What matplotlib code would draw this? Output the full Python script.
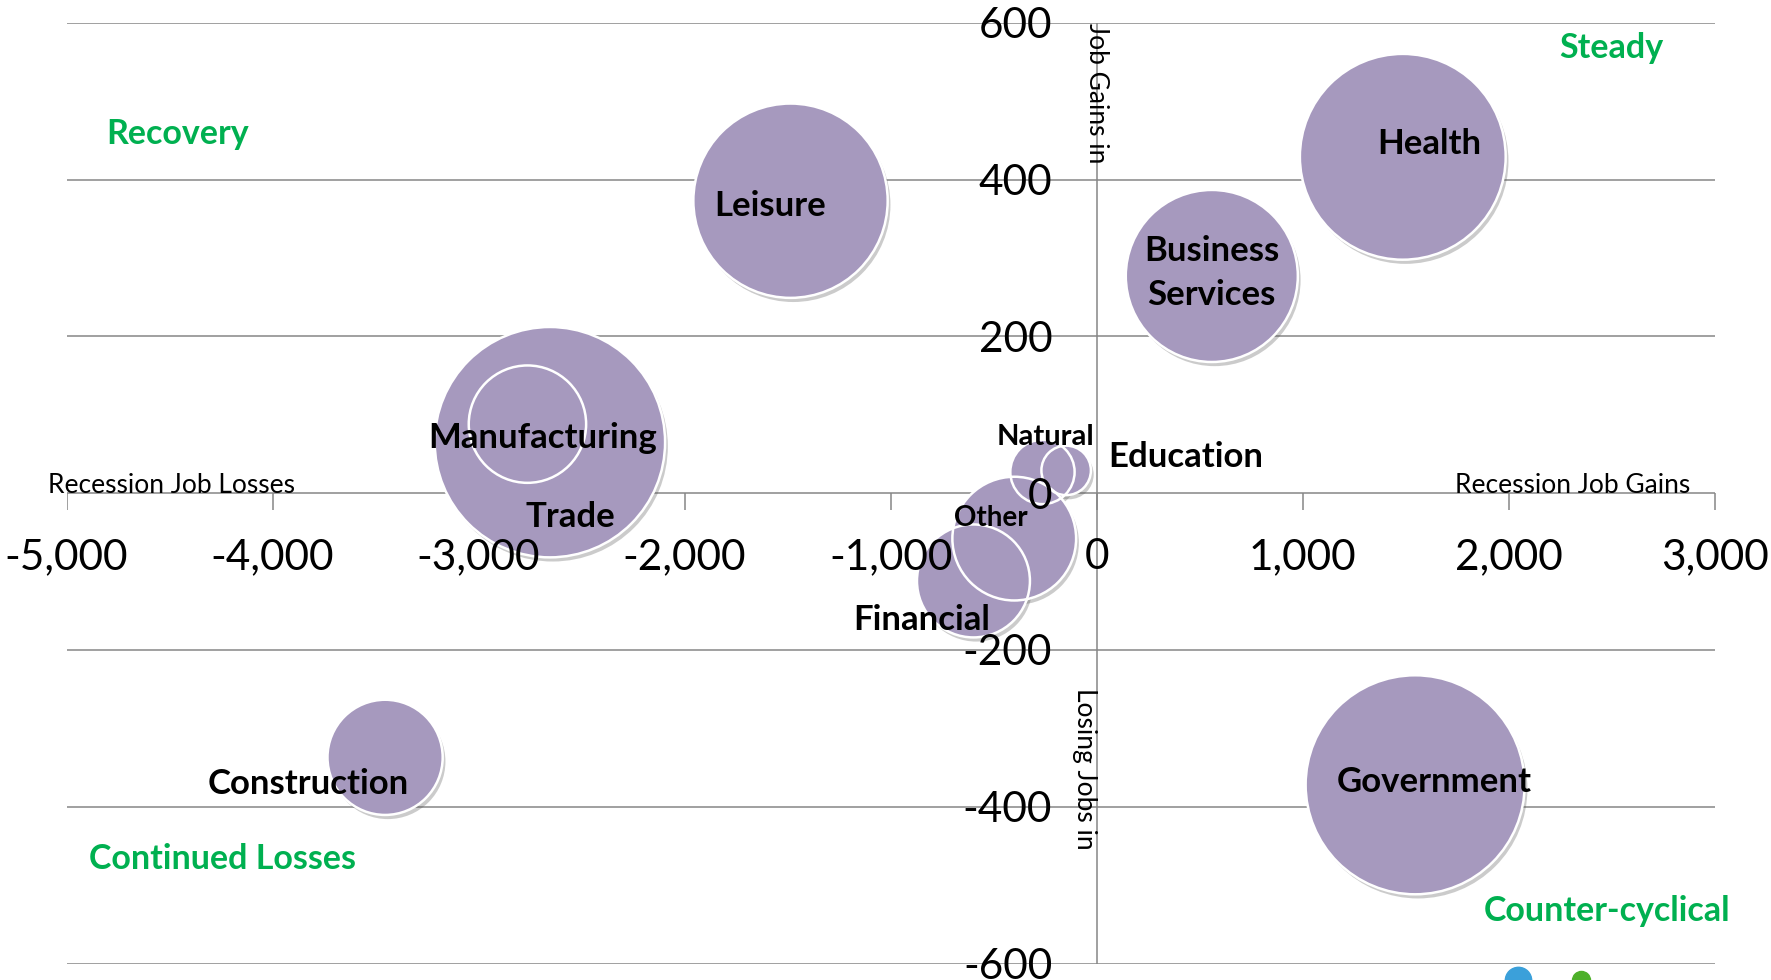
import matplotlib
matplotlib.use("Agg")
import matplotlib.pyplot as plt
import matplotlib.patheffects as pe
from matplotlib.lines import Line2D
import numpy as np

plt.rcParams["font.family"] = ["Lato", "DejaVu Sans"]

# bubble data: x = recession job change, y = recovery job change, size = bubble area
sectors = ["Leisure", "Health", "Business\nServices", "Manufacturing", "Trade",
           "Construction", "Government", "Natural", "Education", "Other", "Financial"]
recession_change = [-1486, 1486, 559, -2654, -2763, -3454, 1546, -263, -148, -400, -598]
recovery_change = [373, 429, 277, 65, 88, -337, -372, 27, 29, -58, -112]
bubble_size = [7400, 8300, 5800, 10400, 2700, 2600, 9400, 810, 480, 3000, 2500]

# label offsets from bubble centre (points) and font sizes
label_offset = [(-15, -4), (19, 9), (0, 2), (-5, 3), (31, -67), (-55, -19),
                (14, 2), (2, 25), (86, 10), (-17, 15), (-37, -28)]
label_fs = [25, 25, 25, 25, 25, 25, 25, 21, 25, 20, 25]

x_ticks = [-5000, -4000, -3000, -2000, -1000, 0, 1000, 2000, 3000]
y_ticks = [-600, -400, -200, 0, 200, 400, 600]

quadrants = ["Recovery", "Steady", "Continued Losses", "Counter-cyclical"]
quad_x = [-4463, 2500, -4243, 2478]
quad_y = [458, 568, -467, -533]

GRID = "#868686"
BUBBLE = "#A699BE"
GREEN = "#00B050"
DPI = 100
PX_PER_SQRT = 1.1295  # pixels of radius per sqrt(size)

fig = plt.figure(figsize=(17.71, 9.8), dpi=DPI)
ax = fig.add_axes([0.0376, 0.0168, 0.9306, 0.960])
ax.set_xlim(-5000, 3000)
ax.set_ylim(-600, 600)
ax.set_axisbelow(False)

for y in y_ticks:
    ax.axhline(y, color=GRID, lw=1.1, zorder=0)
ax.axvline(0, color=GRID, lw=1.1, zorder=0)
ax.plot(x_ticks, np.zeros(len(x_ticks)), ls="", marker=3, markersize=12,
        markeredgewidth=1.1, color=GRID, zorder=0)

radius_pt = np.sqrt(bubble_size) * PX_PER_SQRT * 72 / DPI
s = (2 * radius_pt) ** 2
ax.scatter(recession_change, recovery_change, s=s, c=BUBBLE, edgecolors="none",
           zorder=1, path_effects=[pe.SimplePatchShadow(offset=(2, -3), shadow_rgbFace="#555555", alpha=0.3),
                                   pe.Normal()])
ax.scatter(recession_change, recovery_change, s=s, facecolors="none",
           edgecolors="white", linewidths=1.8, zorder=1.1)

for name, x, y, off, fs in zip(sectors, recession_change, recovery_change, label_offset, label_fs):
    ax.annotate(name, (x, y), xytext=off, textcoords="offset points",
                ha="center", va="center", fontsize=fs, fontweight="bold",
                linespacing=1.45, zorder=3)

for name, x, y in zip(quadrants, quad_x, quad_y):
    ax.text(x, y, name, color=GREEN, fontsize=24.5, fontweight="bold",
            ha="center", va="center", zorder=3)

# axes through origin
for sp in ax.spines.values():
    sp.set_visible(False)
ax.spines["bottom"].set_position(("data", 0))
ax.spines["left"].set_position(("data", 0))
ax.set_xticks(x_ticks)
ax.set_xticklabels([f"{v:,}" for v in x_ticks])
ax.set_yticks(y_ticks)
ax.set_yticklabels([str(v) for v in y_ticks])
ax.tick_params(axis="x", length=0, pad=32.5, labelsize=30.5)
ax.tick_params(axis="y", length=0, pad=32, labelsize=30.5)

ax.text(-5090, 0, "Recession Job Losses", fontsize=19, ha="left", va="baseline")
ax.text(2880, 0, "Recession Job Gains", fontsize=19, ha="right", va="baseline")
ax.text(0, 600, "Job Gains in", fontsize=19, rotation=-90, ha="center", va="top")
ax.text(0, -249, "Losing Jobs in", fontsize=19, rotation=-90, ha="right", va="top")

# legend fragment at the bottom edge
handles = [Line2D([], [], ls="", marker="o", color="#3BA0DA", markersize=19),
           Line2D([], [], ls="", marker="o", color="#4DB02A", markersize=13)]
fig.legend(handles, ["", ""], loc="center left", bbox_to_anchor=(0.853, -0.001),
           ncol=2, frameon=False, handlelength=1, handletextpad=0,
           columnspacing=3.6, borderpad=0, borderaxespad=0, fontsize=10)

fig.savefig("out.png", dpi=DPI)
